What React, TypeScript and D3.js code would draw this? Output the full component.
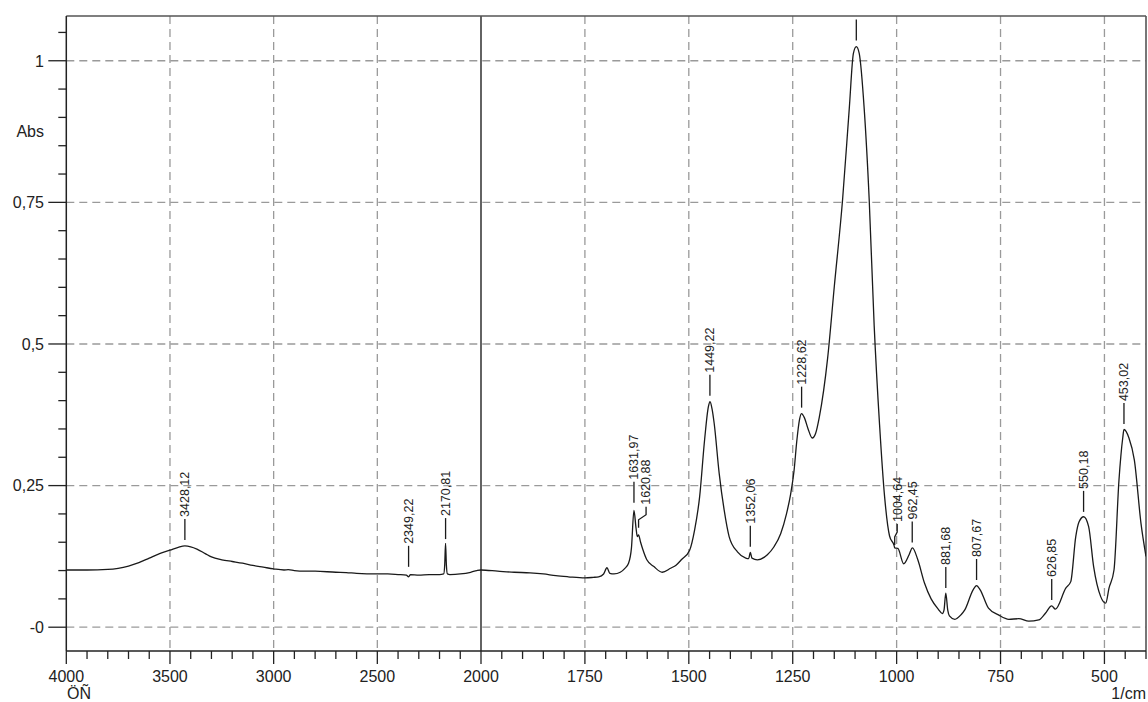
import React, { useEffect, useRef } from "react";
import * as d3 from "d3";

// spectrum: [wavenumber 1/cm, Abs]
const leftPart: [number, number][] = [
  [4000, 0.101], [3900, 0.101], [3800, 0.102], [3750, 0.104], [3700, 0.108],
  [3650, 0.114], [3600, 0.122], [3550, 0.13], [3500, 0.136], [3460, 0.141],
  [3428, 0.1435], [3400, 0.142], [3370, 0.138], [3330, 0.13], [3300, 0.124],
  [3250, 0.119], [3200, 0.116], [3150, 0.113], [3100, 0.109], [3050, 0.106],
  [3000, 0.103], [2950, 0.101], [2930, 0.1015], [2900, 0.1], [2850, 0.099],
  [2800, 0.099], [2700, 0.097], [2650, 0.0965], [2600, 0.095], [2500, 0.094],
  [2450, 0.094], [2400, 0.093], [2360, 0.092], [2349, 0.089], [2340, 0.093],
  [2300, 0.092], [2250, 0.093], [2200, 0.093], [2180, 0.094], [2175, 0.11],
  [2171, 0.148], [2167, 0.11], [2162, 0.094], [2150, 0.093], [2100, 0.094],
  [2050, 0.097], [2020, 0.1],
];

const rightPart: [number, number][] = [
  [2000, 0.101], [1960, 0.099], [1920, 0.097], [1882, 0.096], [1850, 0.094],
  [1820, 0.091], [1790, 0.089], [1750, 0.087], [1730, 0.088], [1717, 0.089],
  [1705, 0.094], [1697, 0.105], [1690, 0.095], [1680, 0.094], [1665, 0.097],
  [1655, 0.103], [1645, 0.113], [1638, 0.14], [1632, 0.206], [1627, 0.175],
  [1624, 0.16], [1621, 0.163], [1616, 0.15], [1611, 0.138], [1601, 0.119],
  [1584, 0.107], [1564, 0.097], [1544, 0.104], [1530, 0.11], [1518, 0.119],
  [1498, 0.136], [1486, 0.172], [1474, 0.23], [1462, 0.331], [1453, 0.389],
  [1449, 0.398], [1444, 0.385], [1439, 0.36], [1427, 0.272], [1415, 0.207],
  [1403, 0.16], [1383, 0.133], [1363, 0.122], [1356, 0.121], [1352, 0.132],
  [1348, 0.122], [1335, 0.119], [1311, 0.128], [1295, 0.142], [1279, 0.165],
  [1265, 0.2], [1255, 0.235], [1247, 0.275], [1240, 0.33], [1234, 0.365],
  [1229, 0.377], [1222, 0.37], [1213, 0.35], [1203, 0.334], [1195, 0.342],
  [1186, 0.371], [1166, 0.475], [1150, 0.601], [1130, 0.755], [1114, 0.915],
  [1104, 1.013], [1097, 1.025], [1090, 1.013], [1078, 0.915], [1066, 0.755],
  [1054, 0.532], [1041, 0.357], [1029, 0.231], [1017, 0.161], [1006, 0.144],
  [1004.6, 0.14], [997, 0.139], [983, 0.112], [970, 0.128], [962, 0.14],
  [949, 0.119], [933, 0.078], [917, 0.05], [900, 0.032], [890, 0.024],
  [886, 0.03], [881.7, 0.06], [877, 0.03], [873, 0.02], [860, 0.014],
  [845, 0.022], [836, 0.0305], [816, 0.066], [807.7, 0.0735], [799, 0.066],
  [779, 0.0335], [755, 0.0217], [730, 0.014], [706, 0.015], [682, 0.0106],
  [658, 0.0129], [642, 0.0247], [627, 0.0376], [618, 0.032], [593, 0.069],
  [581, 0.0805], [569, 0.16], [561, 0.186], [550, 0.195], [538, 0.1775],
  [526, 0.107], [509, 0.054], [497, 0.0424], [489, 0.069], [477, 0.101],
  [465, 0.26], [456, 0.334], [453, 0.349], [441, 0.334], [428, 0.295],
  [412, 0.183], [400, 0.125],
];

// peak picks: wavenumber, label, Abs where the marker sits
const peakWave = [3428.12, 2349.22, 2170.81, 1631.97, 1620.88, 1449.22, 1352.06, 1228.62, 1097, 1004.64, 962.45, 881.68, 807.67, 626.85, 550.18, 453.02];
const peakText = ["3428,12", "2349,22", "2170,81", "1631,97", "1620,88", "1449,22", "1352,06", "1228,62", "", "1004,64", "962,45", "881,68", "807,67", "626,85", "550,18", "453,02"];
const peakAbs = [0.1435, 0.096, 0.145, 0.209, 0.165, 0.398, 0.1315, 0.377, 1.025, 0.1345, 0.139, 0.0586, 0.0727, 0.0374, 0.193, 0.348];
// leader offsets (px) where labels were pushed aside
const leaderShift: Record<string, number> = { "1620,88": 7.5, "1004,64": 2.5 };

const xMajor = [4000, 3500, 3000, 2500, 2000, 1750, 1500, 1250, 1000, 750, 500];
const yMajor = [0, 0.25, 0.5, 0.75, 1];
const yLabels = ["-0", "0,25", "0,5", "0,75", "1"];

const W = 1148;
const H = 702;
const FONT = "'Liberation Sans', Arial, sans-serif";

const App: React.FC = () => {
  const ref = useRef<SVGSVGElement | null>(null);

  useEffect(() => {
    if (!ref.current) return;
    const svg = d3.select(ref.current);
    svg.selectAll("*").remove();

    const left = 66.3;
    const right = 1146;
    const top = 16;
    const bottom = 651;

    // wavenumber axis changes scale at 2000
    const x = d3.scaleLinear().domain([4000, 2000, 400]).range([left, 481, right]);
    const y = d3.scaleLinear().domain([-0.042, 1.079]).range([bottom, top]);

    svg
      .append("defs")
      .append("clipPath")
      .attr("id", "plot")
      .append("rect")
      .attr("x", left)
      .attr("y", top + 1)
      .attr("width", right - left)
      .attr("height", bottom - top - 1);

    // grid
    const grid = svg.append("g").attr("stroke", "#9a9a9a").attr("stroke-width", 1.3).attr("stroke-dasharray", "8,5");
    xMajor
      .filter((v) => v !== 4000 && v !== 2000)
      .forEach((v) => {
        grid.append("line").attr("x1", x(v)).attr("x2", x(v)).attr("y1", top).attr("y2", bottom);
      });
    yMajor.forEach((v) => {
      grid.append("line").attr("x1", left).attr("x2", right).attr("y1", y(v)).attr("y2", y(v));
    });

    // solid divider at the scale break
    svg.append("line").attr("x1", x(2000)).attr("x2", x(2000)).attr("y1", top).attr("y2", bottom).attr("stroke", "#222").attr("stroke-width", 1.4);

    // frame
    svg.append("line").attr("x1", left).attr("x2", right).attr("y1", top).attr("y2", top).attr("stroke", "#555").attr("stroke-width", 1.6);
    svg.append("line").attr("x1", right).attr("x2", right).attr("y1", top).attr("y2", bottom).attr("stroke", "#555").attr("stroke-width", 1.6);
    svg.append("line").attr("x1", left).attr("x2", left).attr("y1", top).attr("y2", bottom).attr("stroke", "#222").attr("stroke-width", 1.5);
    svg.append("line").attr("x1", left).attr("x2", right).attr("y1", bottom).attr("y2", bottom).attr("stroke", "#222").attr("stroke-width", 1.5);

    // y ticks
    const yTicks = svg.append("g").attr("stroke", "#222").attr("stroke-width", 1.3);
    d3.range(0, 22).forEach((i) => {
      const v = i * 0.05;
      if (y(v) < top) return;
      const major = i % 5 === 0;
      yTicks.append("line").attr("x1", left - (major ? 18 : 8)).attr("x2", left).attr("y1", y(v)).attr("y2", y(v));
    });
    svg
      .append("g")
      .selectAll("text")
      .data(yMajor)
      .join("text")
      .attr("x", 44)
      .attr("y", (d) => y(d))
      .attr("dy", "0.36em")
      .attr("text-anchor", "end")
      .attr("font-family", FONT)
      .attr("font-size", 16)
      .attr("fill", "#222")
      .text((d, i) => yLabels[i]);
    svg.append("text").attr("x", 44).attr("y", 137).attr("text-anchor", "end").attr("font-family", FONT).attr("font-size", 16).attr("fill", "#222").text("Abs");

    // x ticks
    const xTicks = svg.append("g").attr("stroke", "#222").attr("stroke-width", 1.3);
    const minor = [...d3.range(4000, 2000, -100), ...d3.range(2000, 399, -50)];
    minor.forEach((v) => {
      const major = xMajor.includes(v);
      xTicks.append("line").attr("x1", x(v)).attr("x2", x(v)).attr("y1", bottom).attr("y2", bottom + (major ? 13 : 8));
    });
    svg
      .append("g")
      .selectAll("text")
      .data(xMajor)
      .join("text")
      .attr("x", (d) => x(d))
      .attr("y", 682)
      .attr("text-anchor", "middle")
      .attr("font-family", FONT)
      .attr("font-size", 16)
      .attr("fill", "#222")
      .text((d) => String(d));
    svg.append("text").attr("x", 67).attr("y", 699).attr("font-family", FONT).attr("font-size", 16).attr("fill", "#222").text("ÖÑ");
    svg.append("text").attr("x", 1146).attr("y", 699).attr("text-anchor", "end").attr("font-family", FONT).attr("font-size", 16).attr("fill", "#222").text("1/cm");

    const plot = svg.append("g").attr("clip-path", "url(#plot)");

    // spectrum
    const line = d3
      .line<[number, number]>()
      .x((d) => x(d[0]))
      .y((d) => y(d[1]))
      .curve(d3.curveMonotoneX);
    plot
      .append("path")
      .datum([...leftPart, ...rightPart])
      .attr("fill", "none")
      .attr("stroke", "#1a1a1a")
      .attr("stroke-width", 1.3)
      .attr("d", line);

    // peak markers
    peakWave.forEach((w, i) => {
      const px = x(w);
      const base = y(peakAbs[i]) - 6;
      const dx = leaderShift[peakText[i]] || 0;
      const tipY = base - 21;
      const path = dx
        ? `M${px},${base}V${base - 8}L${px + dx},${base - 13}V${tipY}`
        : `M${px},${base}V${tipY}`;
      plot.append("path").attr("d", path).attr("fill", "none").attr("stroke", "#1a1a1a").attr("stroke-width", 1.3);
      if (!peakText[i]) return;
      plot
        .append("text")
        .attr("transform", `translate(${px + dx},${tipY - 2}) rotate(-90)`)
        .attr("dy", "0.35em")
        .attr("font-family", FONT)
        .attr("font-size", 12.5)
        .attr("fill", "#222")
        .text(peakText[i]);
    });
  }, []);

  return (
    <svg
      ref={ref}
      width={W}
      height={H}
      style={{ position: "absolute", left: 0, top: 0, background: "#fff" }}
    />
  );
};

export default App;
